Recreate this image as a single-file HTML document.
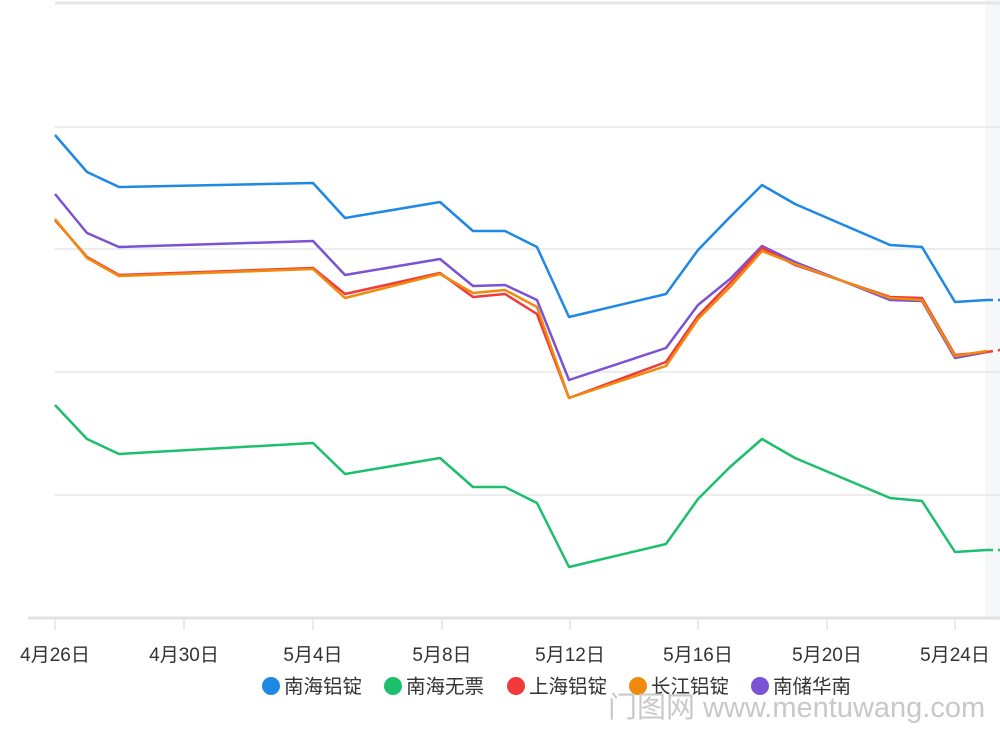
<!DOCTYPE html>
<html><head><meta charset="utf-8"><style>
body{margin:0;background:#fff;width:1000px;height:731px;overflow:hidden}
svg{display:block}
text{font-family:"Liberation Sans","Noto Sans CJK SC",sans-serif}
</style></head><body>
<svg width="1000" height="731" viewBox="0 0 1000 731">
<rect x="985" y="0" width="15" height="620" fill="#f6f7f9"/>
<g stroke="#e6e6e6" stroke-width="1.5">
<line x1="55" y1="3" x2="1000" y2="3" stroke-width="3"/>
<line x1="55" y1="127" x2="1000" y2="127"/>
<line x1="55" y1="249" x2="1000" y2="249"/>
<line x1="55" y1="372" x2="1000" y2="372"/>
<line x1="55" y1="495" x2="1000" y2="495"/>
</g>
<line x1="28" y1="618" x2="1000" y2="618" stroke="#e2e2e2" stroke-width="3"/>
<g stroke="#e2e2e2" stroke-width="1.5">
<line x1="55" y1="618" x2="55" y2="630"/><line x1="184" y1="618" x2="184" y2="630"/>
<line x1="313" y1="618" x2="313" y2="630"/><line x1="442" y1="618" x2="442" y2="630"/>
<line x1="570" y1="618" x2="570" y2="630"/><line x1="698" y1="618" x2="698" y2="630"/>
<line x1="827" y1="618" x2="827" y2="630"/><line x1="955" y1="618" x2="955" y2="630"/>
</g>
<g font-size="19" fill="#333" text-anchor="middle">
<text x="55" y="661">4月26日</text><text x="184" y="661">4月30日</text>
<text x="313" y="661">5月4日</text><text x="442" y="661">5月8日</text>
<text x="570" y="661">5月12日</text><text x="698" y="661">5月16日</text>
<text x="827" y="661">5月20日</text><text x="955" y="661">5月24日</text>
</g>
<g fill="none" stroke-width="2.5" stroke-linejoin="round">
<polyline stroke="#1e88e5" points="55,135 87,172 119,187 313,183 345,218 440,202 473,231 505,231 537,247 569,317 666,294 698,250 730,217 762,185 795,204 890,245 922,247 955,302 987,300"/>
<polyline stroke="#1cbf6b" points="55,405 87,439 119,454 313,443 345,474 440,458 473,487 505,487 537,503 569,567 666,544 698,499 730,467 762,439 795,458 890,498 922,501 955,552 987,550"/>
<polyline stroke="#7b52d4" points="55,194 87,233 119,247 313,241 345,275 440,259 473,286 505,285 537,300 569,380 666,348 698,305 730,279 762,246 795,262 890,300 922,301 955,358 987,352"/>
<polyline stroke="#f23a3a" points="55,220 87,257 119,275 313,268 345,294 440,273 473,297 505,294 537,314 569,398 666,362 698,316 730,283 762,248 795,265 890,297 922,298 955,355 987,352"/>
<polyline stroke="#f08a0c" points="55,219 87,258 119,276 313,269 345,298 440,274 473,293 505,290 537,307 569,398 666,366 698,319 730,287 762,251 795,264 890,298 922,300 955,356 987,351"/>
<g stroke-dasharray="6,5">
<line x1="987" y1="300" x2="1000" y2="300" stroke="#1e88e5"/>
<line x1="987" y1="550" x2="1000" y2="550" stroke="#1cbf6b"/>
<line x1="987" y1="352" x2="1000" y2="350" stroke="#f23a3a"/>
</g>
</g>
<g font-size="19.5" fill="#333">
<circle cx="271" cy="686" r="9" fill="#1e88e5"/><text x="284" y="693">南海铝锭</text>
<circle cx="393" cy="686" r="9" fill="#1cbf6b"/><text x="406" y="693">南海无票</text>
<circle cx="516" cy="686" r="9" fill="#f23a3a"/><text x="529" y="693">上海铝锭</text>
<circle cx="638" cy="686" r="9" fill="#f08a0c"/><text x="651" y="693">长江铝锭</text>
<circle cx="760" cy="686" r="9" fill="#7b52d4"/><text x="773" y="693">南储华南</text>
</g>
<text x="608" y="717" font-size="29" fill="#c8c8c8">门图网 www.mentuwang.com</text>
</svg>
</body></html>
